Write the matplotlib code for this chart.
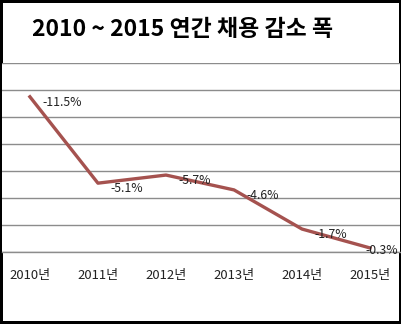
import matplotlib
matplotlib.use("Agg")
import matplotlib.pyplot as plt

plt.rcParams['font.family'] = ['Noto Sans CJK KR', 'DejaVu Sans']

# data
years = ['2010년', '2011년', '2012년', '2013년', '2014년', '2015년']
change = [-11.5, -5.1, -5.7, -4.6, -1.7, -0.3]
title = '2010 ~ 2015 연간 채용 감소 폭'

fig = plt.figure(figsize=(4.02, 3.24), dpi=100)
fig.patch.set_facecolor('white')
fig.patch.set_edgecolor('black')
fig.patch.set_linewidth(3)

ax = fig.add_axes([0.005, 0.2222, 0.99, 0.5833])
x = list(range(len(years)))
ax.plot(x, change, color='#a5524f', linewidth=2.4, solid_joinstyle='round', zorder=3)

# y axis runs downward: 0 at the bottom, -14 at the top
ax.set_ylim(0, -14)
ax.set_yticks([0, -2, -4, -6, -8, -10, -12, -14])
ax.set_yticklabels([])
ax.yaxis.grid(True, color='#8c8c8c', linewidth=1)
ax.axhline(0, color='#8c8c8c', linewidth=1, clip_on=False, zorder=2)
ax.set_xlim(-0.41, 5.44)
ax.set_xticks(x)
ax.set_xticklabels(years, fontsize=9.4, color='#222222')
ax.tick_params(length=0, pad=12)
for s in ax.spines.values():
    s.set_visible(False)

for i, v in enumerate(change):
    if i < len(change) - 1:
        off = (9, -4)
    else:
        off = (-3, -2)
    ax.annotate('%.1f%%' % v, (i, v), xytext=off, textcoords='offset points',
                ha='left', va='center', fontsize=8.8, color='#222222', zorder=4)

fig.text(32 / 402, 1 - 30 / 324, title, fontsize=16.5, fontweight='bold',
         ha='left', va='center', color='black')

fig.savefig('out.png', dpi=100)
